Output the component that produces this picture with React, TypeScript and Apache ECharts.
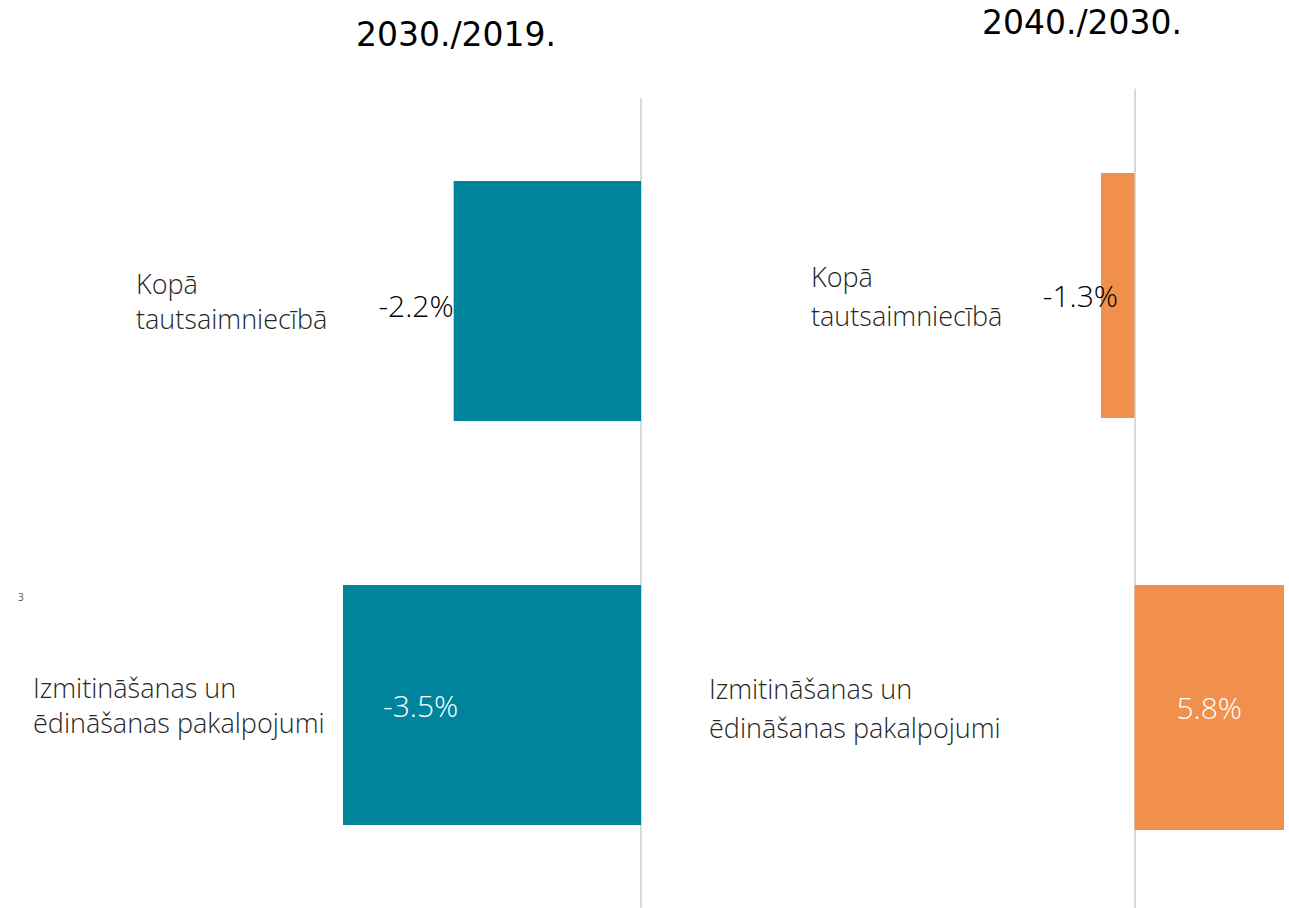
import React, { useEffect, useRef } from "react";
import * as echarts from "echarts";

const categories = ["Kopā tautsaimniecībā", "Izmitināšanas un ēdināšanas pakalpojumi"];
const categoryLines = [
  ["Kopā", "tautsaimniecībā"],
  ["Izmitināšanas un", "ēdināšanas pakalpojumi"],
];
const change2030vs2019 = [-2.2, -3.5];
const change2040vs2030 = [-1.3, 5.8];
const panelTitles = ["2030./2019.", "2040./2030."];
const footnoteMark = "3";

const TEAL = "#00849c";
const ORANGE = "#f0904c";
const LABEL_FONT = "'Open Sans', 'Noto Sans', sans-serif";

export default function App() {
  const ref = useRef<HTMLDivElement>(null);

  useEffect(() => {
    if (!ref.current) return;
    const chart = echarts.init(ref.current, undefined, { renderer: "svg" });

    const fmt = (v: number) => `${v.toFixed(1)}%`;

    const catLabel = (lineHeight: number, indent: number) => ({
      show: true,
      align: "left" as const,
      fontFamily: LABEL_FONT,
      fontWeight: 300,
      fontSize: 27,
      color: "#262626",
      formatter: (value: string) => {
        const idx = categories.indexOf(value);
        const style = idx === 0 ? "k" : "n";
        return categoryLines[idx].map((l) => `{${style}|${l}}`).join("\n");
      },
      rich: {
        k: {
          fontFamily: LABEL_FONT,
          fontWeight: 300,
          fontSize: 27,
          color: "#262626",
          lineHeight,
          padding: [0, 0, 0, indent],
        },
        n: {
          fontFamily: LABEL_FONT,
          fontWeight: 300,
          fontSize: 27,
          color: "#262626",
          lineHeight,
        },
      },
    });

    const leftItems = change2030vs2019.map((v, i) => ({
      value: v,
      label:
        i === 0
          ? { show: true, position: "left", distance: 0, color: "#000", offset: [0, 4] }
          : { show: true, position: "insideLeft", distance: 40, color: "#fff" },
    }));
    const rightItems = change2040vs2030.map((v, i) => ({
      value: v,
      label:
        i === 0
          ? { show: true, position: "left", distance: -17, color: "#000" }
          : { show: true, position: "inside", color: "#fff" },
    }));

    const dataLabelBase = {
      fontFamily: LABEL_FONT,
      fontWeight: 300,
      fontSize: 30,
      formatter: (p: any) => fmt(p.value),
    };

    const titleStyle = {
      fontFamily: "'DejaVu Sans', Verdana, sans-serif",
      fontSize: 33,
      fontWeight: "normal",
      color: "#000",
    };

    chart.setOption({
      animation: false,
      backgroundColor: "#ffffff",
      title: [
        { text: panelTitles[0], left: 351, top: 13, textStyle: titleStyle },
        { text: panelTitles[1], left: 977, top: 1, textStyle: titleStyle },
      ],
      graphic: [
        {
          type: "text",
          left: 18,
          top: 592,
          style: { text: footnoteMark, fontSize: 10, fill: "#555", fontFamily: LABEL_FONT },
        },
      ],
      grid: [
        { left: 343, width: 298, top: 99, height: 808, containLabel: false, outerBoundsMode: "none" },
        { left: 1101, width: 183, top: 89.5, height: 824, containLabel: false, outerBoundsMode: "none" },
      ],
      xAxis: [
        { type: "value", gridIndex: 0, min: -3.5, max: 0, show: false },
        { type: "value", gridIndex: 1, min: -1.3, max: 5.8, show: false },
      ],
      yAxis: [
        {
          type: "category",
          gridIndex: 0,
          data: categories,
          inverse: true,
          axisLine: { show: true, onZero: true, lineStyle: { color: "#d9d9d9", width: 2 } },
          axisTick: { show: false },
          splitLine: { show: false },
          axisLabel: { ...catLabel(35, 103), margin: 310 },
        },
        {
          type: "category",
          gridIndex: 1,
          data: categories,
          inverse: true,
          axisLine: { show: true, onZero: true, lineStyle: { color: "#d9d9d9", width: 2 } },
          axisTick: { show: false },
          splitLine: { show: false },
          axisLabel: { ...catLabel(39, 102), margin: 392 },
        },
      ],
      series: [
        {
          type: "bar",
          xAxisIndex: 0,
          yAxisIndex: 0,
          data: leftItems,
          barCategoryGap: "40.6%",
          itemStyle: { color: TEAL },
          label: { show: true, ...dataLabelBase },
        },
        {
          type: "bar",
          xAxisIndex: 1,
          yAxisIndex: 1,
          data: rightItems,
          barCategoryGap: "40.5%",
          itemStyle: { color: ORANGE },
          label: { show: true, ...dataLabelBase },
        },
      ],
    });

    return () => chart.dispose();
  }, []);

  return (
    <div
      ref={ref}
      style={{ position: "fixed", left: 0, top: 0, width: 1289, height: 908, background: "#fff" }}
    />
  );
}
